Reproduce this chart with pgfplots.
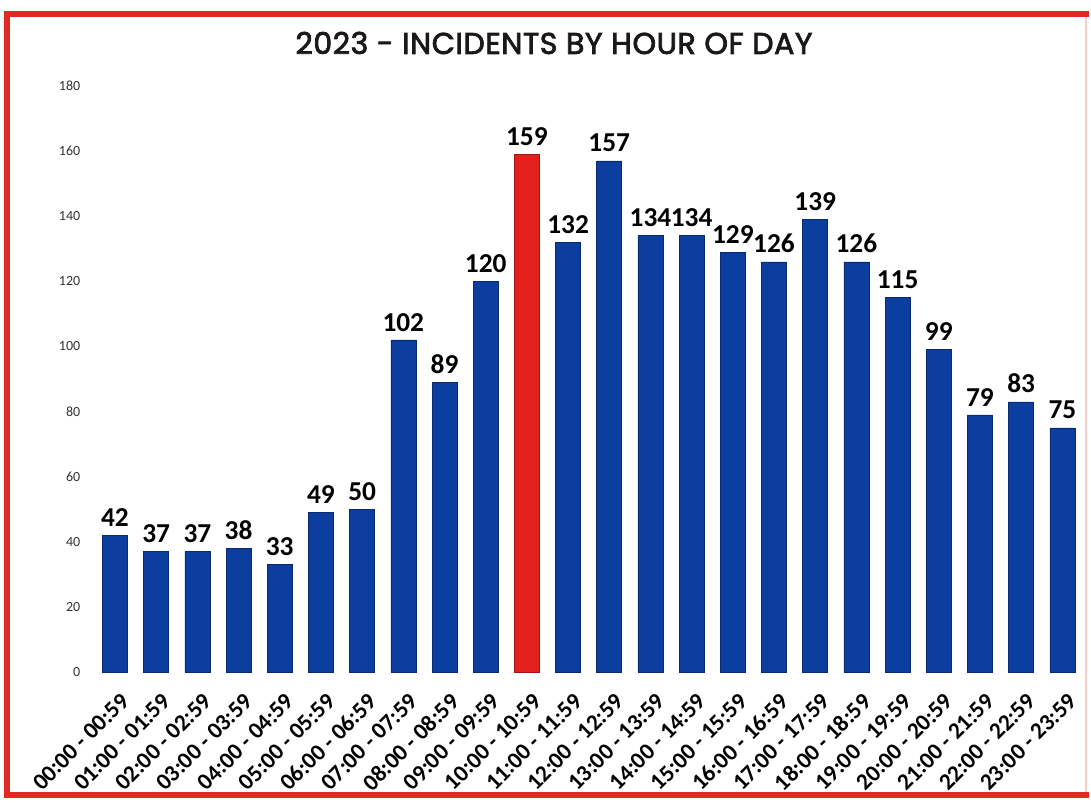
\documentclass[border=0pt]{standalone}
\usepackage{pgfplots}
\pgfplotsset{compat=1.18}
\usepackage{fontspec}
\setmainfont{Carlito}
\newfontfamily\titlefont[FakeBold=2.5, LetterSpace=2]{Poppins}
\definecolor{barblue}{HTML}{0B3E9F}
\definecolor{barred}{HTML}{E3201B}
\definecolor{framered}{HTML}{E22A22}
\begin{document}
\begin{tikzpicture}
\begin{scope}[x=0.75pt,y=0.75pt]
\path[use as bounding box] (0,0) rectangle (1091,806);
\draw[framered!25, line width=0.8pt] (1086,792) -- (1086,11);
\draw[framered, line width=3.8pt] (1089,792) -- (7,792) -- (7,11) -- (1089,11);
\node[font=\titlefont\fontsize{22.5}{26}\selectfont, text=black!90] at (554,763) {2023 - INCIDENTS BY HOUR OF DAY};
\end{scope}
\begin{axis}[
  at={(67.7pt,100.5pt)}, anchor=south west,
  scale only axis, width=744.5pt, height=439.5pt,
  xmin=-0.6, xmax=23.5, ymin=0, ymax=180,
  ybar, bar width=18.75pt,
  axis line style={draw=none}, major tick length=0pt,
  ytick={0,20,...,180},
  yticklabel style={font=\fontsize{10.5}{12}\selectfont, text=black!80, xshift=-4pt},
  /pgf/number format/assume math mode=true,
  xtick={0,...,23},
  xticklabels={00:00 - 00:59,01:00 - 01:59,02:00 - 02:59,03:00 - 03:59,04:00 - 04:59,05:00 - 05:59,06:00 - 06:59,07:00 - 07:59,08:00 - 08:59,09:00 - 09:59,10:00 - 10:59,11:00 - 11:59,12:00 - 12:59,13:00 - 13:59,14:00 - 14:59,15:00 - 15:59,16:00 - 16:59,17:00 - 17:59,18:00 - 18:59,19:00 - 19:59,20:00 - 20:59,21:00 - 21:59,22:00 - 22:59,23:00 - 23:59},
  xticklabel style={rotate=45, anchor=north east, font=\bfseries\fontsize{17.5}{19}\selectfont, inner sep=1pt, yshift=-12pt, xshift=-7pt},
  nodes near coords,
  every node near coord/.append style={font=\bfseries\fontsize{20.5}{22}\selectfont, text=black, yshift=3pt},
  clip=false,
]
\addplot[fill=barblue, draw=barblue!70!black, bar shift=0pt] coordinates {
(0,42) (1,37) (2,37) (3,38) (4,33) (5,49) (6,50) (7,102) (8,89) (9,120)
(11,132) (12,157) (13,134) (14,134) (15,129) (16,126) (17,139) (18,126) (19,115) (20,99) (21,79) (22,83) (23,75)};
\addplot[fill=barred, draw=barred!70!black, bar shift=0pt] coordinates {(10,159)};
\end{axis}
\end{tikzpicture}
\end{document}
